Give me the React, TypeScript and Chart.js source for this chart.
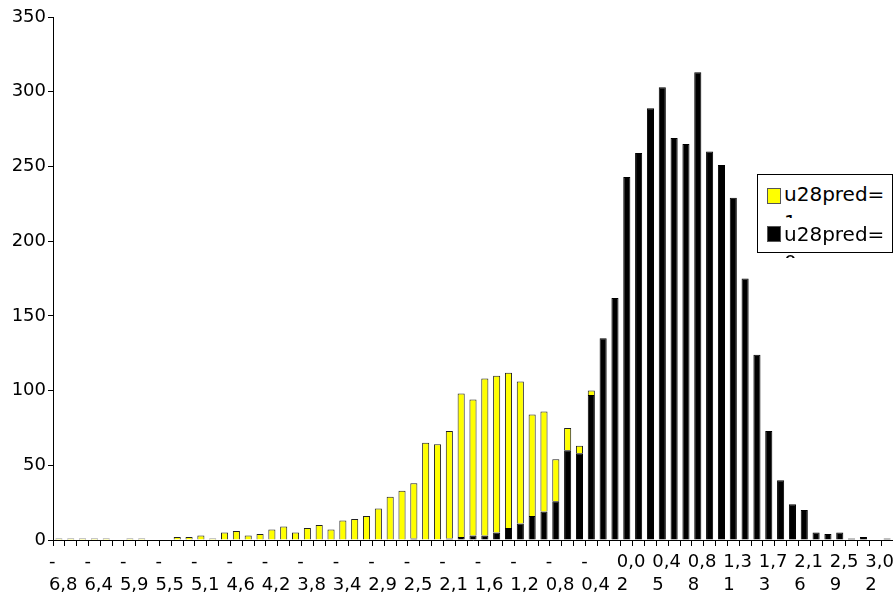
import React, { useEffect, useRef } from 'react';
import { Chart, registerables } from 'chart.js';

Chart.register(...registerables);

const FONT = "'DejaVu Sans', 'Liberation Sans', Arial, sans-serif";

// x tick labels (one every 3rd bin), shown as two lines as in the original
const tickLabels: string[][] = [
  ['-', '6,8'], ['-', '6,4'], ['-', '5,9'], ['-', '5,5'], ['-', '5,1'], ['-', '4,6'],
  ['-', '4,2'], ['-', '3,8'], ['-', '3,4'], ['-', '2,9'], ['-', '2,5'], ['-', '2,1'],
  ['-', '1,6'], ['-', '1,2'], ['-', '0,8'], ['-', '0,4'], ['0,0', '2'], ['0,4', '5'],
  ['0,8', '8'], ['1,3', '1'], ['1,7', '3'], ['2,1', '6'], ['2,5', '9'], ['3,0', '2'],
];
const LABEL_EVERY = 3;

// counts per bin (71 bins)
const u28pred0: number[] = [
  0, 0, 0, 0, 0, 0, 0, 0, 0, 0,
  0, 0, 0, 0, 0, 0, 0, 0, 0, 0,
  0, 0, 0, 0, 0, 0, 0, 0, 0, 0,
  1, 0, 0, 1, 2, 3, 3, 5, 8, 11,
  16, 19, 26, 60, 58, 97, 135, 162, 243, 259,
  289, 303, 269, 265, 313, 260, 251, 229, 175, 124,
  73, 40, 24, 20, 5, 4, 5, 1, 2, 0,
  1,
];
const u28pred1: number[] = [
  1, 1, 1, 1, 1, 0, 1, 1, 0, 0,
  2, 2, 3, 1, 5, 6, 3, 4, 7, 9,
  5, 8, 10, 7, 13, 14, 16, 21, 29, 33,
  37, 65, 64, 72, 96, 91, 105, 105, 104, 95,
  68, 67, 28, 15, 5, 3, 0, 0, 0, 0,
  0, 0, 0, 0, 0, 0, 0, 0, 0, 0,
  0, 0, 0, 0, 0, 0, 0, 0, 0, 0,
  0,
];

const seriesNames = ['u28pred=1', 'u28pred=0'];
const seriesColors = ['#FFFF00', '#000000'];

const yMax = 350;
const yStep = 50;

export default function App() {
  const ref = useRef<HTMLCanvasElement>(null);

  useEffect(() => {
    const labels = u28pred0.map((_, i) =>
      i % LABEL_EVERY === 0 && tickLabels[i / LABEL_EVERY] ? tickLabels[i / LABEL_EVERY] : ''
    );
    const chart = new Chart(ref.current as HTMLCanvasElement, {
      type: 'bar',
      data: {
        labels,
        datasets: [
          {
            label: seriesNames[1],
            data: u28pred0.map((v) => (v === 0 ? null : v)),
            backgroundColor: seriesColors[1],
            borderColor: '#000',
            borderWidth: 1,
            barPercentage: 0.6,
            categoryPercentage: 1,
          },
          {
            label: seriesNames[0],
            data: u28pred1.map((v) => (v === 0 ? null : v)),
            backgroundColor: seriesColors[0],
            borderColor: '#222',
            borderWidth: 1,
            barPercentage: 0.6,
            categoryPercentage: 1,
          },
        ],
      },
      options: {
        responsive: false,
        animation: false,
        layout: { padding: { top: 17, right: 0, left: 0, bottom: 0 } },
        plugins: { legend: { display: false }, tooltip: { enabled: false } },
        scales: {
          x: {
            stacked: true,
            offset: true,
            grid: {
              display: true,
              drawOnChartArea: false,
              drawTicks: true,
              tickLength: 6,
              color: '#000',
              offset: true,
            },
            border: { display: true, color: '#000', width: 1 },
            ticks: {
              autoSkip: false,
              maxRotation: 0,
              minRotation: 0,
              align: 'start',
              labelOffset: -10,
              padding: 5,
              color: '#000',
              font: { family: FONT, size: 18, lineHeight: '23px' },
            },
            afterFit: (s: any) => {
              s.height = 59;
            },
          },
          y: {
            stacked: true,
            min: 0,
            max: yMax,
            ticks: {
              stepSize: yStep,
              padding: 2,
              color: '#000',
              font: { family: FONT, size: 18 },
            },
            grid: { drawOnChartArea: false, drawTicks: true, tickLength: 5, color: '#000' },
            border: { display: true, color: '#000', width: 1 },
            afterFit: (s: any) => {
              s.width = 53;
            },
          },
        },
      },
    } as any);
    return () => chart.destroy();
  }, []);

  const itemStyle = (top: number): React.CSSProperties => ({
    position: 'absolute',
    left: 758,
    top,
    width: 134,
    height: 38,
    overflow: 'hidden',
  });
  const textStyle: React.CSSProperties = {
    position: 'absolute',
    left: 26,
    top: 0,
    width: 106,
    fontFamily: FONT,
    fontSize: 20,
    lineHeight: '28px',
    color: '#000',
    wordBreak: 'break-all',
  };

  return (
    <div style={{ position: 'fixed', left: 0, top: 0, width: 893, height: 599, background: '#fff', overflow: 'hidden' }}>
      <canvas
        ref={ref}
        width={893}
        height={599}
        style={{ position: 'absolute', left: 0, top: 0, width: 893, height: 599 }}
      />
      <div
        style={{
          position: 'absolute',
          left: 757,
          top: 174,
          width: 136,
          height: 79,
          boxSizing: 'border-box',
          border: '1px solid #000',
          background: '#fff',
        }}
      />
      {[0, 1].map((i) => (
        <div key={i} style={itemStyle(i === 0 ? 180 : 220)}>
          <div
            style={{
              position: 'absolute',
              left: 9,
              top: i === 0 ? 8 : 6,
              width: 14,
              height: 16,
              boxSizing: 'border-box',
              background: seriesColors[i],
              border: '1px solid #555',
            }}
          />
          <div style={textStyle}>{seriesNames[i]}</div>
        </div>
      ))}
    </div>
  );
}
